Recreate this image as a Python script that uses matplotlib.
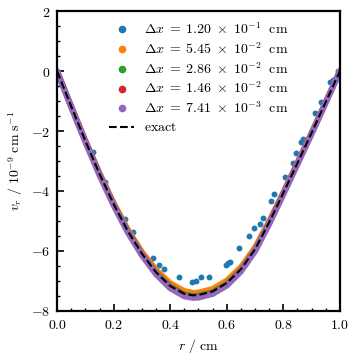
import matplotlib
matplotlib.use("Agg")
import matplotlib.pyplot as plt
from matplotlib.ticker import MultipleLocator, FuncFormatter
from matplotlib.lines import Line2D

plt.rcParams['mathtext.fontset'] = 'cm'
plt.rcParams['font.family'] = ['DejaVu Serif']

# exact solution
r_exact = [0.0, 0.05, 0.1, 0.15, 0.2, 0.25, 0.3, 0.35, 0.4, 0.45, 0.48, 0.5,
           0.55, 0.6, 0.65, 0.7, 0.75, 0.8, 0.85, 0.9, 0.95, 1.0]
v_exact = [0.0, -1.18, -2.33, -3.43, -4.44, -5.34, -6.10, -6.72, -7.18, -7.44, -7.49, -7.48,
           -7.36, -7.08, -6.62, -5.95, -5.05, -4.07, -3.07, -2.06, -1.03, 0.0]

# fine-resolution numerical solutions (dense, drawn as bands)
v_orange = [0.0, -1.16, -2.30, -3.39, -4.39, -5.28, -6.03, -6.63, -7.08, -7.34, -7.40, -7.39,
            -7.27, -6.99, -6.54, -5.88, -5.00, -4.03, -3.04, -2.04, -1.02, 0.0]
v_green = [0.0, -1.18, -2.33, -3.43, -4.44, -5.34, -6.11, -6.73, -7.19, -7.46, -7.51, -7.50,
           -7.38, -7.10, -6.64, -5.97, -5.07, -4.08, -3.08, -2.07, -1.04, 0.0]
v_red = [0.0, -1.19, -2.34, -3.45, -4.46, -5.36, -6.13, -6.76, -7.22, -7.49, -7.54, -7.53,
         -7.41, -7.13, -6.66, -5.99, -5.08, -4.09, -3.09, -2.08, -1.04, 0.0]
v_purple = [0.0, -1.20, -2.36, -3.47, -4.48, -5.38, -6.15, -6.78, -7.25, -7.52, -7.57, -7.56,
            -7.44, -7.16, -6.69, -6.01, -5.10, -4.11, -3.10, -2.09, -1.05, 0.0]

# coarse-resolution points (blue)
r_blue = [0.126, 0.170, 0.240, 0.268, 0.338, 0.359, 0.378, 0.432, 0.478, 0.492, 0.509, 0.537,
          0.597, 0.603, 0.611, 0.644, 0.678, 0.697, 0.717, 0.729, 0.756, 0.767, 0.806, 0.835,
          0.845, 0.861, 0.868, 0.912, 0.934, 0.965, 0.975, 0.994]
v_blue = [-2.69, -3.70, -4.93, -5.38, -6.24, -6.47, -6.61, -6.89, -7.04, -7.02, -6.88, -6.88,
          -6.49, -6.41, -6.36, -5.92, -5.52, -5.23, -5.10, -4.90, -4.35, -4.10, -3.52, -3.05,
          -2.72, -2.38, -2.27, -1.38, -1.03, -0.36, -0.28, 0.00]

labels = [r'$\Delta x\;=\;1.20\;\times\;10^{-1}\ \ \mathrm{cm}$',
          r'$\Delta x\;=\;5.45\;\times\;10^{-2}\ \ \mathrm{cm}$',
          r'$\Delta x\;=\;2.86\;\times\;10^{-2}\ \ \mathrm{cm}$',
          r'$\Delta x\;=\;1.46\;\times\;10^{-2}\ \ \mathrm{cm}$',
          r'$\Delta x\;=\;7.41\;\times\;10^{-3}\ \ \mathrm{cm}$']
colors = ['#1f77b4', '#ff7f0e', '#2ca02c', '#d62728', '#9467bd']

fig = plt.figure(figsize=(3.57, 3.57), dpi=100)
ax = fig.add_axes([0.16, 0.13, 0.792, 0.838])

ax.plot(r_exact, v_orange, color=colors[1], lw=4.0, solid_capstyle='round', zorder=2)
ax.plot(r_exact, v_green, color=colors[2], lw=4.0, solid_capstyle='round', zorder=2.1)
ax.plot(r_exact, v_red, color=colors[3], lw=4.0, solid_capstyle='round', zorder=2.2)
ax.plot(r_exact, v_purple, color=colors[4], lw=4.5, solid_capstyle='round', zorder=2.3)
ax.scatter(r_blue, v_blue, s=18, color=colors[0], zorder=1.5, linewidths=0)
ax.plot(r_exact, v_exact, 'k--', lw=1.5, zorder=3)

handles = [Line2D([], [], marker='o', ls='none', color=c, markersize=4.5) for c in colors]
handles.append(Line2D([], [], color='k', ls='--', lw=1.5))
ax.legend(handles, labels + [r'$\mathrm{exact}$'], loc='upper left', frameon=False,
          fontsize=10, handlelength=1.8, handletextpad=0.7, borderaxespad=0.0,
          labelspacing=0.3, bbox_to_anchor=(0.165, 0.985))

ax.set_xlim(0, 1)
ax.set_ylim(-8, 2)
ax.xaxis.set_major_locator(MultipleLocator(0.2))
ax.xaxis.set_minor_locator(MultipleLocator(0.05))
ax.yaxis.set_major_locator(MultipleLocator(2))
ax.yaxis.set_minor_locator(MultipleLocator(0.5))
ax.xaxis.set_major_formatter(FuncFormatter(lambda x, p: r'$%.1f$' % x))
ax.yaxis.set_major_formatter(FuncFormatter(lambda y, p: r'$%d$' % round(y)))
ax.tick_params(which='both', direction='in', top=False, right=False, labelsize=10)
ax.tick_params(which='major', length=5, width=1.2, pad=5)
ax.tick_params(which='minor', length=2.5, width=1.0)
for s in ax.spines.values():
    s.set_linewidth(1.6)

ax.set_xlabel(r'$r\ /\ \mathrm{cm}$', fontsize=10)
ax.set_ylabel(r'$v_r\ /\ 10^{-9}\ \mathrm{cm\ s}^{-1}$', fontsize=10)

fig.savefig('out.png', dpi=100)
